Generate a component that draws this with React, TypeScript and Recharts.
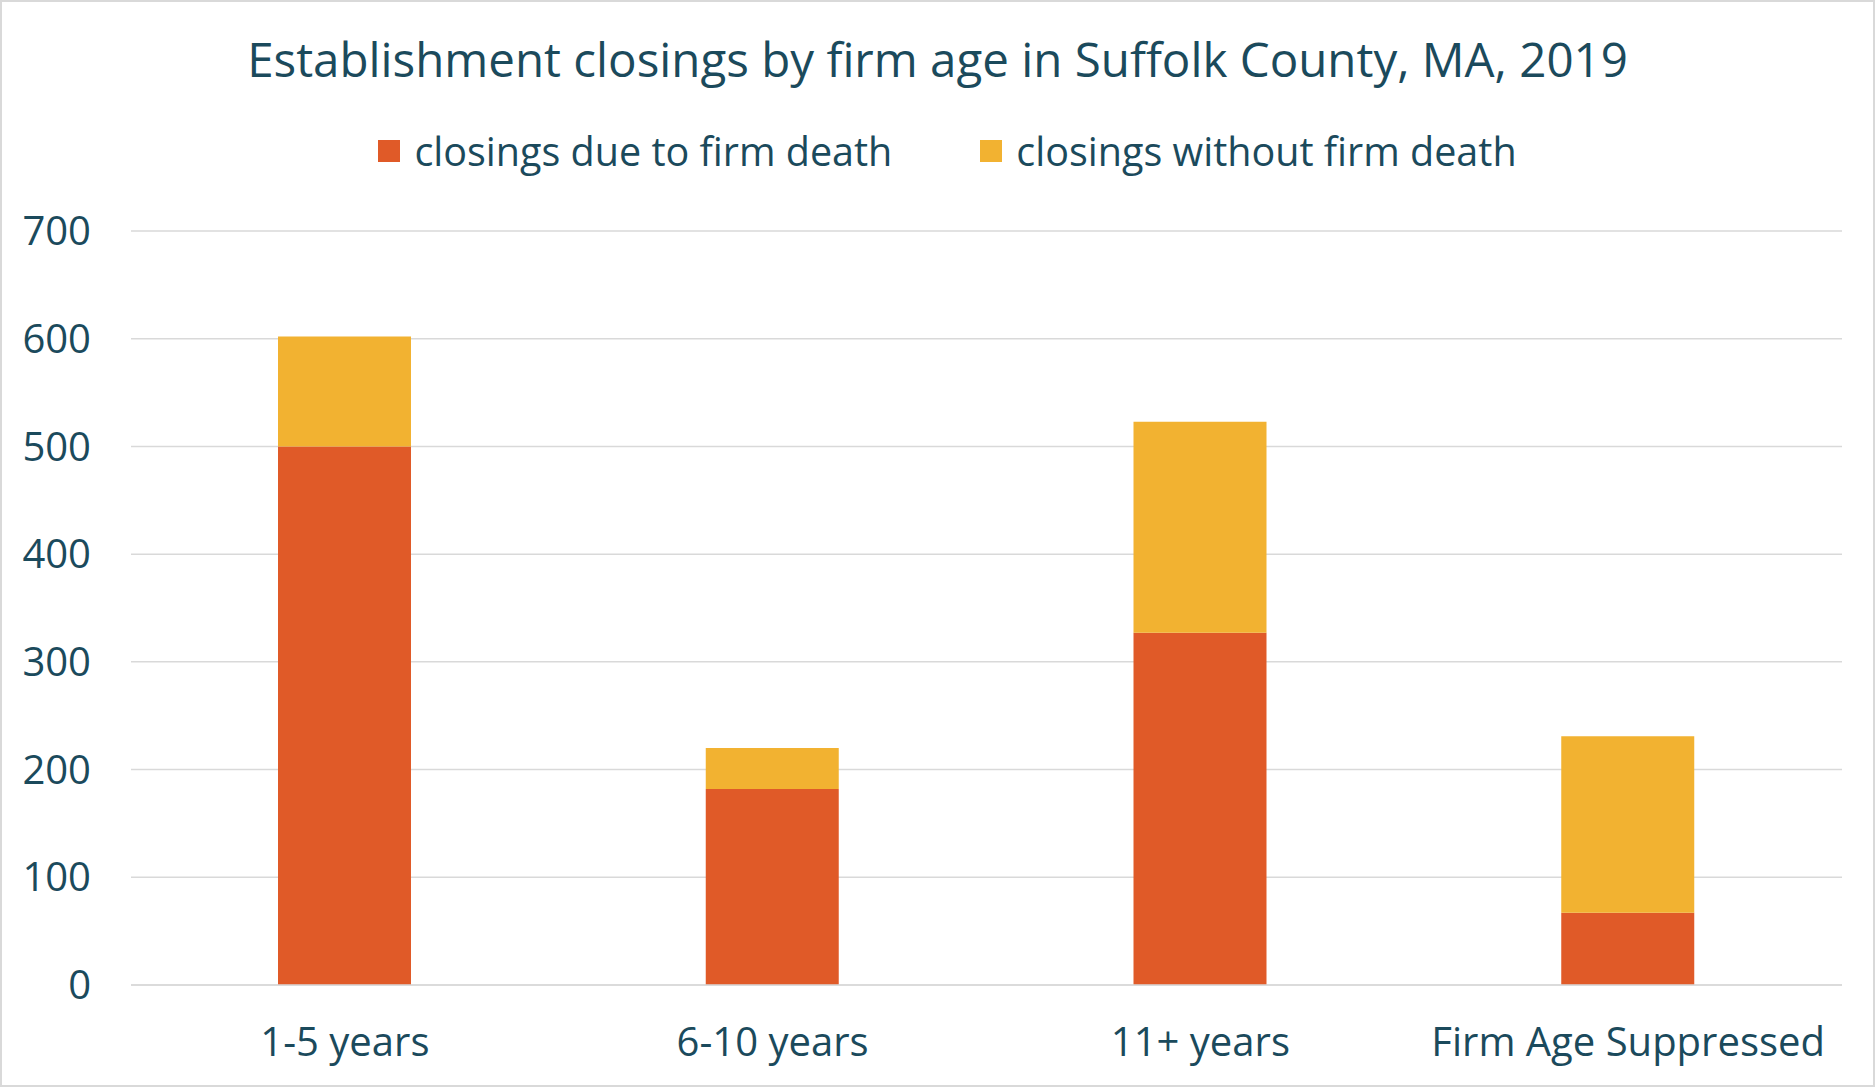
import React from 'react';
import { BarChart, Bar, XAxis, YAxis, CartesianGrid } from 'recharts';

const categories = ['1-5 years', '6-10 years', '11+ years', 'Firm Age Suppressed'];
const firmDeath = [500, 182, 327, 67];
const withoutDeath = [102, 38, 196, 164];
const yTicks = [0, 100, 200, 300, 400, 500, 600, 700];

const data = categories.map((name, i) => ({
  name,
  death: firmDeath[i],
  noDeath: withoutDeath[i],
}));

const TEXT = '#1B4A5C';
const ORANGE = '#E05A28';
const YELLOW = '#F2B231';
const FONT = '"Open Sans", sans-serif';

const legendItems = [
  { label: 'closings due to firm death', color: ORANGE },
  { label: 'closings without firm death', color: YELLOW },
];

const App: React.FC = () => {
  return (
    <div style={{ position: 'absolute', left: 0, top: 0, width: 1875, height: 1087, background: '#fff', boxSizing: 'border-box', border: '2px solid #D9D9D9' }}>
      <div style={{ position: 'absolute', top: 24, left: 0, width: '100%', textAlign: 'center', fontFamily: FONT, fontSize: 47.5, color: TEXT, whiteSpace: 'nowrap' }}>
        Establishment closings by firm age in Suffolk County, MA, 2019
      </div>
      {/* legend */}
      <div style={{ position: 'absolute', top: 121, left: 0, width: '100%', boxSizing: 'border-box', paddingLeft: 20, display: 'flex', justifyContent: 'center', fontFamily: FONT, fontSize: 39.5, color: TEXT, lineHeight: '56px' }}>
        {legendItems.map((it, i) => (
          <div key={it.label} style={{ display: 'flex', alignItems: 'center', marginLeft: i ? 88 : 0 }}>
            <span style={{ width: 22, height: 22, background: it.color, display: 'inline-block', marginRight: 14 }} />
            <span>{it.label}</span>
          </div>
        ))}
      </div>
      <BarChart width={1871} height={1083} data={data}
        margin={{ top: 229, right: 31, left: 0, bottom: 70 }}>
        <CartesianGrid vertical={false} stroke="#D9D9D9" strokeWidth={1.5} />
        <XAxis dataKey="name" height={30} tickLine={false} axisLine={{ stroke: '#D9D9D9', strokeWidth: 1.5 }}
          tick={{ fill: TEXT, fontSize: 40, fontFamily: FONT }} tickMargin={37} interval={0} />
        <YAxis domain={[0, 700]} ticks={yTicks} width={129} tickLine={false} axisLine={false} tickSize={0}
          tickMargin={40} tick={{ fill: TEXT, fontSize: 40, fontFamily: FONT }} />
        <Bar dataKey="death" stackId="a" fill={ORANGE} barSize={133} isAnimationActive={false} />
        <Bar dataKey="noDeath" stackId="a" fill={YELLOW} barSize={133} isAnimationActive={false} />
      </BarChart>
    </div>
  );
};

export default App;
